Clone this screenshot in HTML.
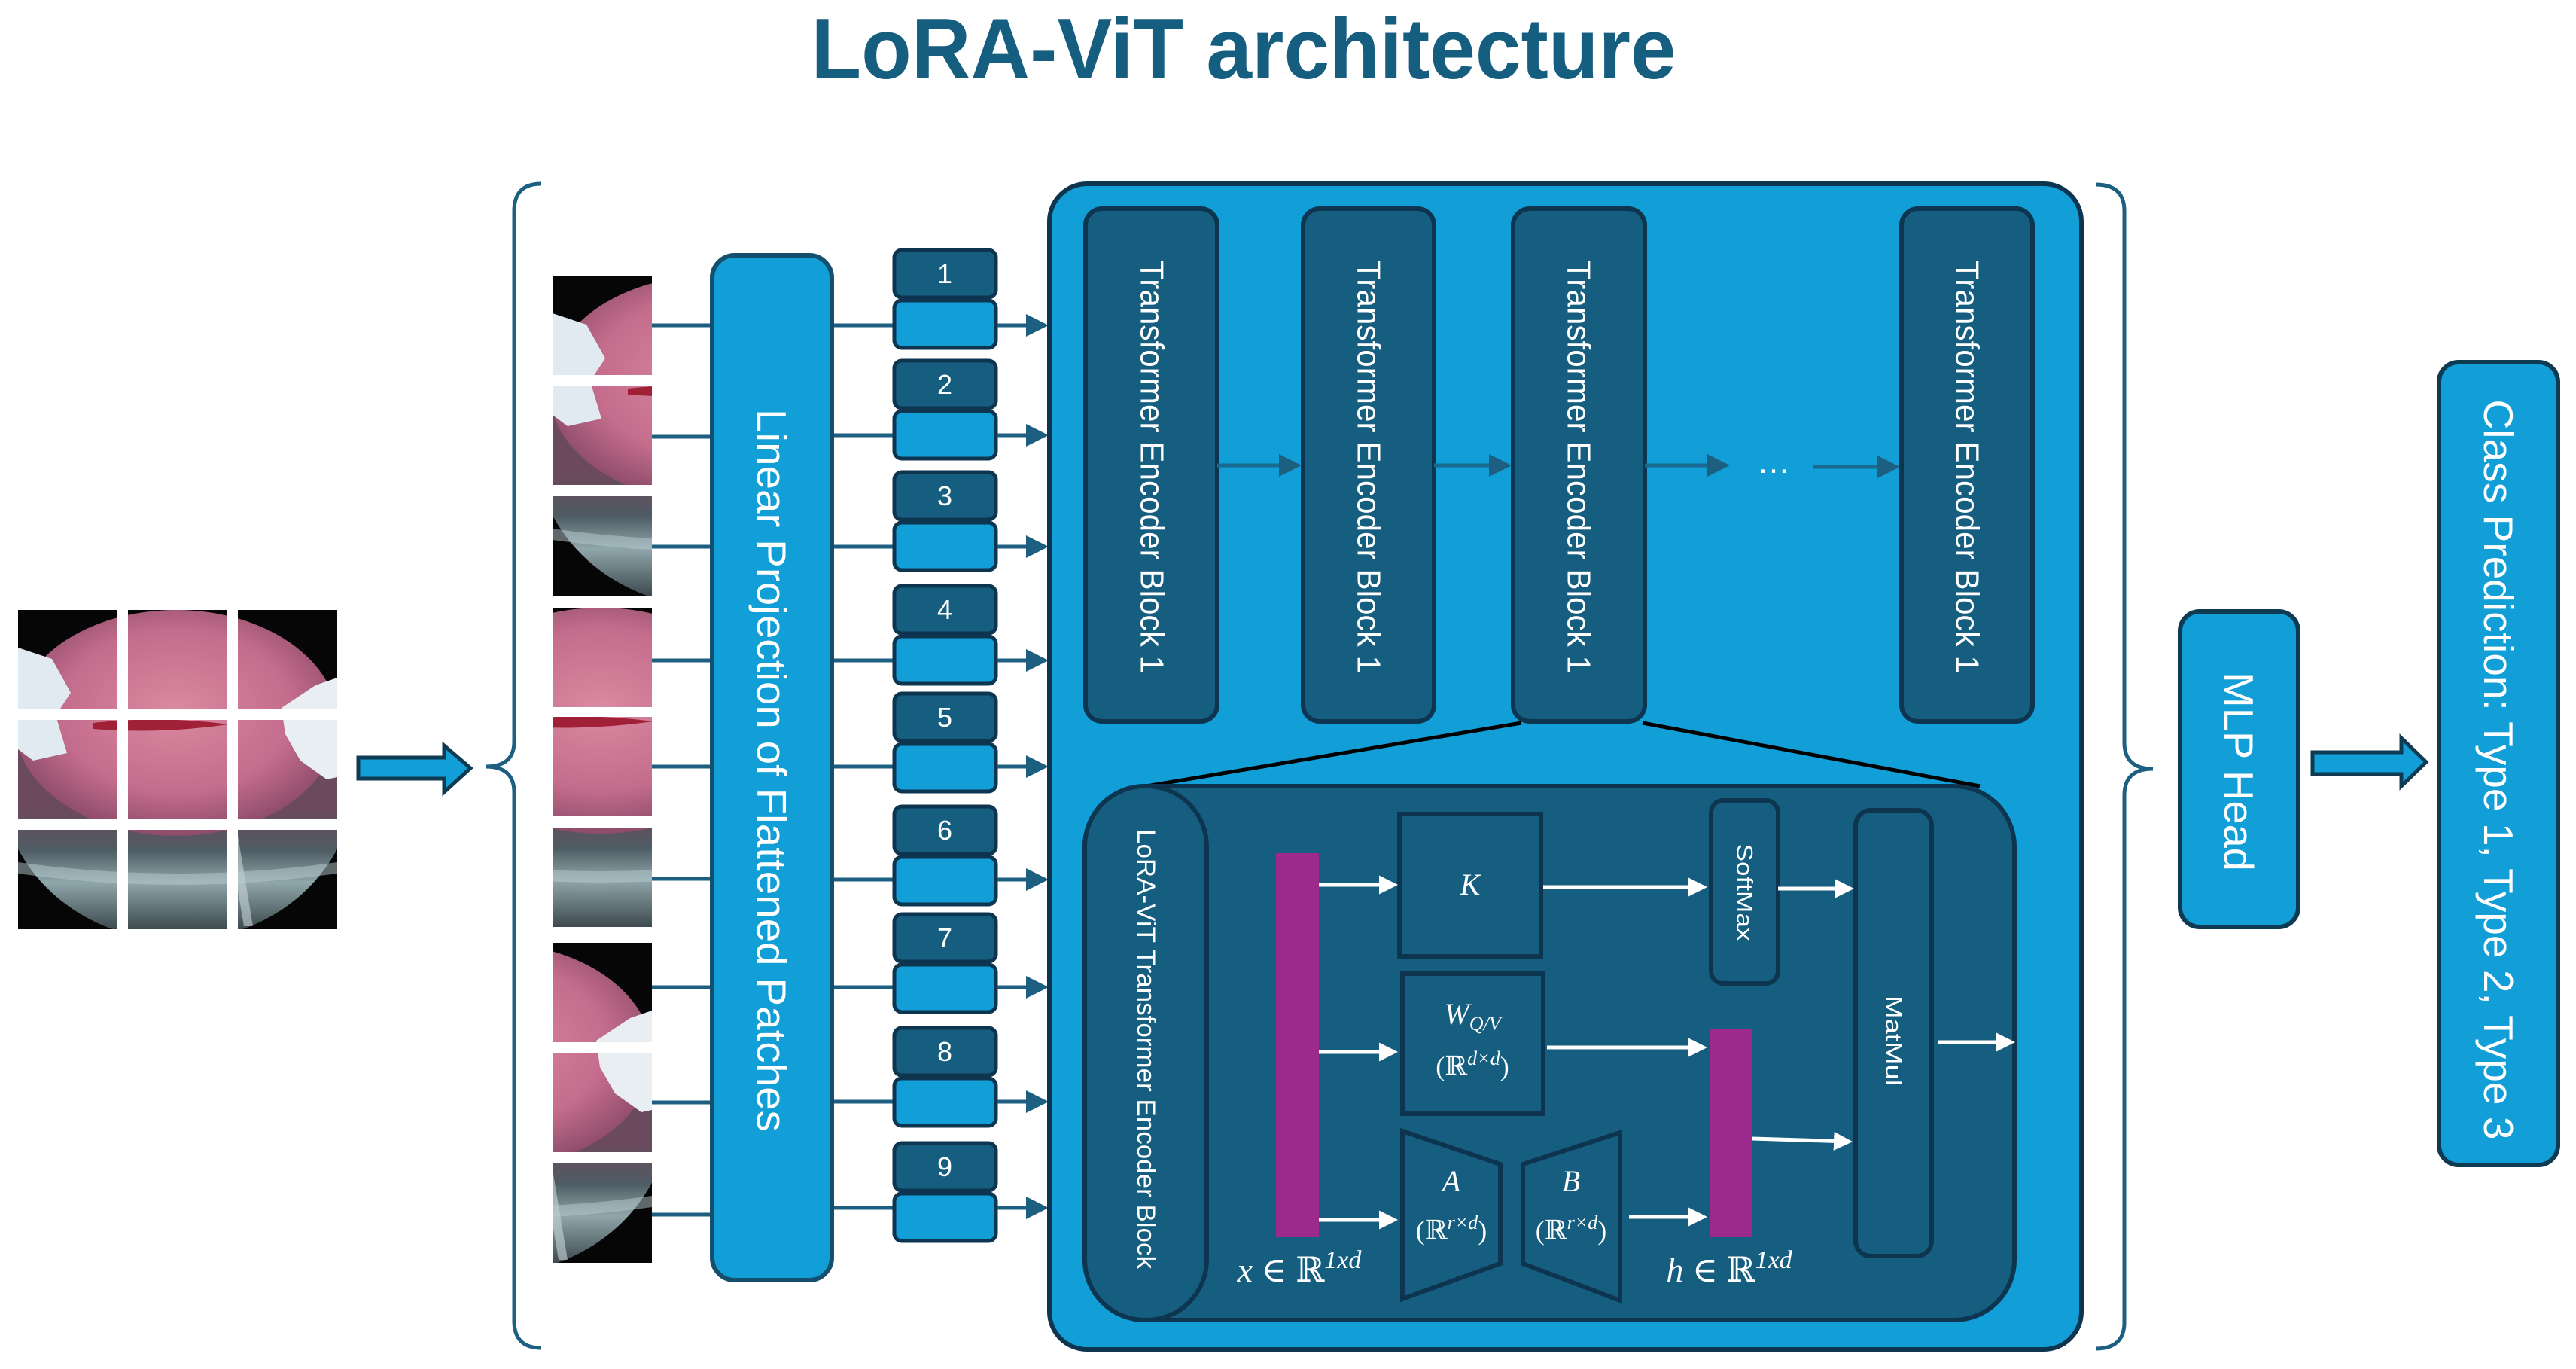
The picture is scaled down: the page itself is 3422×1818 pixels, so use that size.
<!DOCTYPE html>
<html><head><meta charset="utf-8"><style>html,body{margin:0;padding:0;background:#fff;}svg{display:block}</style></head>
<body>
<svg xmlns="http://www.w3.org/2000/svg" width="3422" height="1818" viewBox="0 0 3422 1818">
<defs>
  <radialGradient id="pink" cx="0.5" cy="0.45" r="0.6">
    <stop offset="0" stop-color="#d98aa0"/><stop offset="0.6" stop-color="#c46c8c"/><stop offset="1" stop-color="#7e4460"/>
  </radialGradient>
  <linearGradient id="gray" x1="0" y1="0" x2="0" y2="1">
    <stop offset="0" stop-color="#6a4a5c"/><stop offset="0.6" stop-color="#6a4a5c"/><stop offset="0.72" stop-color="#4e5c64"/><stop offset="0.82" stop-color="#8fa6aa"/><stop offset="1" stop-color="#2a3438"/>
  </linearGradient>
  <marker id="ab" markerWidth="6" markerHeight="6" refX="5" refY="3" orient="auto" markerUnits="strokeWidth"><path d="M0,0 L6,3 L0,6 z" fill="#1d5f80"/></marker>
  <marker id="aw" markerWidth="5" markerHeight="5" refX="4" refY="2.5" orient="auto" markerUnits="strokeWidth"><path d="M0,0 L5,2.5 L0,5 z" fill="#fff"/></marker>
  <g id="img">
    <rect x="0" y="0" width="424" height="424" fill="#060606"/>
    <ellipse cx="212" cy="225" rx="235" ry="214" fill="url(#gray)"/>
    <ellipse cx="210" cy="150" rx="215" ry="150" fill="url(#pink)"/>
    <path d="M100,150 Q190,140 280,152 Q190,165 100,158 z" fill="#a02038"/>
    <path d="M0,50 L45,65 L70,110 L50,140 L65,190 L20,200 L0,185 z" fill="#e0eaf0"/>
    <path d="M424,90 L395,100 L350,130 L355,165 L375,200 L410,225 L424,222 z" fill="#e8eef2"/>
    <path d="M280,300 L300,420 L312,420 L292,300 z" fill="#c8d6d8" opacity="0.6"/>
    <path d="M0,335 Q212,365 424,335 L424,350 Q212,380 0,350 z" fill="#b8cccf" opacity="0.5"/>
  </g>
</defs>

<text x="1652" y="104" text-anchor="middle" font-family="Liberation Sans, sans-serif" font-weight="bold" font-size="114" fill="#165e80" textLength="1149" lengthAdjust="spacingAndGlyphs">LoRA-ViT architecture</text>

<svg x="24" y="810" width="132" height="132" viewBox="0 0 132 132"><use href="#img"/></svg>
<svg x="170" y="810" width="132" height="132" viewBox="146 0 132 132"><use href="#img"/></svg>
<svg x="316" y="810" width="132" height="132" viewBox="292 0 132 132"><use href="#img"/></svg>
<svg x="24" y="956" width="132" height="132" viewBox="0 146 132 132"><use href="#img"/></svg>
<svg x="170" y="956" width="132" height="132" viewBox="146 146 132 132"><use href="#img"/></svg>
<svg x="316" y="956" width="132" height="132" viewBox="292 146 132 132"><use href="#img"/></svg>
<svg x="24" y="1102" width="132" height="132" viewBox="0 292 132 132"><use href="#img"/></svg>
<svg x="170" y="1102" width="132" height="132" viewBox="146 292 132 132"><use href="#img"/></svg>
<svg x="316" y="1102" width="132" height="132" viewBox="292 292 132 132"><use href="#img"/></svg>

<polygon points="476,1006 590,1006 590,990 625,1020 590,1052 590,1034 476,1034" fill="#129ed6" stroke="#0e3a52" stroke-width="5"/>

<path d="M719,244 Q683,244 683,280 L683,985 Q683,1018 645,1018 Q683,1018 683,1052 L683,1754 Q683,1790 719,1790" fill="none" stroke="#1d5f80" stroke-width="5"/>
<path d="M2784,245 Q2822,245 2822,280 L2822,986 Q2822,1021 2860,1021 Q2822,1021 2822,1056 L2822,1756 Q2822,1791 2784,1791" fill="none" stroke="#1d5f80" stroke-width="5"/>

<svg x="734" y="366" width="132" height="132" viewBox="0 0 132 132"><use href="#img"/></svg>
<svg x="734" y="512" width="132" height="132" viewBox="0 146 132 132"><use href="#img"/></svg>
<svg x="734" y="659" width="132" height="132" viewBox="0 292 132 132"><use href="#img"/></svg>
<svg x="734" y="807" width="132" height="132" viewBox="146 0 132 132"><use href="#img"/></svg>
<svg x="734" y="952" width="132" height="132" viewBox="146 146 132 132"><use href="#img"/></svg>
<svg x="734" y="1099" width="132" height="132" viewBox="146 292 132 132"><use href="#img"/></svg>
<svg x="734" y="1252" width="132" height="132" viewBox="292 0 132 132"><use href="#img"/></svg>
<svg x="734" y="1398" width="132" height="132" viewBox="292 146 132 132"><use href="#img"/></svg>
<svg x="734" y="1545" width="132" height="132" viewBox="292 292 132 132"><use href="#img"/></svg>

<g stroke="#1d5f80" stroke-width="5">
  <line x1="866" y1="432" x2="946" y2="432"/><line x1="866" y1="580" x2="946" y2="580"/><line x1="866" y1="726" x2="946" y2="726"/>
  <line x1="866" y1="877" x2="946" y2="877"/><line x1="866" y1="1018" x2="946" y2="1018"/><line x1="866" y1="1167" x2="946" y2="1167"/>
  <line x1="866" y1="1311" x2="946" y2="1311"/><line x1="866" y1="1464" x2="946" y2="1464"/><line x1="866" y1="1613" x2="946" y2="1613"/>
  <line x1="1105" y1="432" x2="1186" y2="432"/><line x1="1105" y1="578" x2="1186" y2="578"/><line x1="1105" y1="726" x2="1186" y2="726"/>
  <line x1="1105" y1="877" x2="1186" y2="877"/><line x1="1105" y1="1018" x2="1186" y2="1018"/><line x1="1105" y1="1168" x2="1186" y2="1168"/>
  <line x1="1105" y1="1311" x2="1186" y2="1311"/><line x1="1105" y1="1463" x2="1186" y2="1463"/><line x1="1105" y1="1604" x2="1186" y2="1604"/>
</g>

<rect x="946" y="339" width="159" height="1361" rx="30" fill="#129ed6" stroke="#14506e" stroke-width="6"/>
<text transform="translate(1025,1023) rotate(90)" text-anchor="middle" dominant-baseline="central" font-family="Liberation Sans, sans-serif" font-size="55" fill="#fff" textLength="960" lengthAdjust="spacingAndGlyphs">Linear Projection of Flattened Patches</text>

<g font-family="Liberation Sans, sans-serif" font-size="36" fill="#fff" text-anchor="middle">
<g transform="translate(0,332)"><rect x="1188" y="0" width="135" height="63" rx="10" fill="#165e80" stroke="#0e3550" stroke-width="5"/><rect x="1188" y="67" width="135" height="63" rx="10" fill="#129ed6" stroke="#0e3550" stroke-width="5"/><text x="1255" y="44">1</text></g>
<g transform="translate(0,479)"><rect x="1188" y="0" width="135" height="63" rx="10" fill="#165e80" stroke="#0e3550" stroke-width="5"/><rect x="1188" y="67" width="135" height="63" rx="10" fill="#129ed6" stroke="#0e3550" stroke-width="5"/><text x="1255" y="44">2</text></g>
<g transform="translate(0,627)"><rect x="1188" y="0" width="135" height="63" rx="10" fill="#165e80" stroke="#0e3550" stroke-width="5"/><rect x="1188" y="67" width="135" height="63" rx="10" fill="#129ed6" stroke="#0e3550" stroke-width="5"/><text x="1255" y="44">3</text></g>
<g transform="translate(0,778)"><rect x="1188" y="0" width="135" height="63" rx="10" fill="#165e80" stroke="#0e3550" stroke-width="5"/><rect x="1188" y="67" width="135" height="63" rx="10" fill="#129ed6" stroke="#0e3550" stroke-width="5"/><text x="1255" y="44">4</text></g>
<g transform="translate(0,921)"><rect x="1188" y="0" width="135" height="63" rx="10" fill="#165e80" stroke="#0e3550" stroke-width="5"/><rect x="1188" y="67" width="135" height="63" rx="10" fill="#129ed6" stroke="#0e3550" stroke-width="5"/><text x="1255" y="44">5</text></g>
<g transform="translate(0,1071)"><rect x="1188" y="0" width="135" height="63" rx="10" fill="#165e80" stroke="#0e3550" stroke-width="5"/><rect x="1188" y="67" width="135" height="63" rx="10" fill="#129ed6" stroke="#0e3550" stroke-width="5"/><text x="1255" y="44">6</text></g>
<g transform="translate(0,1214)"><rect x="1188" y="0" width="135" height="63" rx="10" fill="#165e80" stroke="#0e3550" stroke-width="5"/><rect x="1188" y="67" width="135" height="63" rx="10" fill="#129ed6" stroke="#0e3550" stroke-width="5"/><text x="1255" y="44">7</text></g>
<g transform="translate(0,1365)"><rect x="1188" y="0" width="135" height="63" rx="10" fill="#165e80" stroke="#0e3550" stroke-width="5"/><rect x="1188" y="67" width="135" height="63" rx="10" fill="#129ed6" stroke="#0e3550" stroke-width="5"/><text x="1255" y="44">8</text></g>
<g transform="translate(0,1518)"><rect x="1188" y="0" width="135" height="63" rx="10" fill="#165e80" stroke="#0e3550" stroke-width="5"/><rect x="1188" y="67" width="135" height="63" rx="10" fill="#129ed6" stroke="#0e3550" stroke-width="5"/><text x="1255" y="44">9</text></g>
</g>
<g stroke="#1d5f80" stroke-width="5" marker-end="url(#ab)">
  <line x1="1324" y1="432" x2="1388" y2="432"/><line x1="1324" y1="578" x2="1388" y2="578"/><line x1="1324" y1="726" x2="1388" y2="726"/>
  <line x1="1324" y1="877" x2="1388" y2="877"/><line x1="1324" y1="1018" x2="1388" y2="1018"/><line x1="1324" y1="1168" x2="1388" y2="1168"/>
  <line x1="1324" y1="1311" x2="1388" y2="1311"/><line x1="1324" y1="1463" x2="1388" y2="1463"/><line x1="1324" y1="1604" x2="1388" y2="1604"/>
</g>

<rect x="1394" y="244" width="1371" height="1548" rx="50" fill="#129ed6" stroke="#0e3550" stroke-width="6"/>

<g fill="#165e80" stroke="#0e3550" stroke-width="6">
  <rect x="1442" y="277" width="175" height="681" rx="22"/>
  <rect x="1731" y="277" width="174" height="681" rx="22"/>
  <rect x="2010" y="277" width="175" height="681" rx="22"/>
  <rect x="2526" y="277" width="174" height="681" rx="22"/>
</g>
<g font-family="Liberation Sans, sans-serif" font-size="44" fill="#fff" text-anchor="middle" dominant-baseline="central">
  <text transform="translate(1530,620) rotate(90)" textLength="548" lengthAdjust="spacingAndGlyphs">Transformer Encoder Block 1</text>
  <text transform="translate(1818,620) rotate(90)" textLength="548" lengthAdjust="spacingAndGlyphs">Transformer Encoder Block 1</text>
  <text transform="translate(2097,620) rotate(90)" textLength="548" lengthAdjust="spacingAndGlyphs">Transformer Encoder Block 1</text>
  <text transform="translate(2613,620) rotate(90)" textLength="548" lengthAdjust="spacingAndGlyphs">Transformer Encoder Block 1</text>
</g>
<g stroke="#1a6a90" stroke-width="5" marker-end="url(#ab)">
  <line x1="1617" y1="618" x2="1724" y2="618"/>
  <line x1="1905" y1="618" x2="2003" y2="618"/>
  <line x1="2185" y1="618" x2="2293" y2="618"/>
  <line x1="2409" y1="620" x2="2519" y2="620"/>
</g>
<text x="2356" y="628" text-anchor="middle" font-family="Liberation Sans, sans-serif" font-size="44" fill="#fff">…</text>

<line x1="2021" y1="960" x2="1523" y2="1044" stroke="#000" stroke-width="5"/>
<line x1="2182" y1="960" x2="2630" y2="1044" stroke="#000" stroke-width="5"/>

<rect x="1441" y="1044" width="1235" height="709" rx="80" fill="#165e80" stroke="#0e3550" stroke-width="6"/>
<rect x="1441" y="1044" width="162" height="709" rx="80" fill="#165e80" stroke="#0e3550" stroke-width="6"/>
<text transform="translate(1522,1393) rotate(90)" text-anchor="middle" dominant-baseline="central" font-family="Liberation Sans, sans-serif" font-size="34" fill="#fff" textLength="584" lengthAdjust="spacingAndGlyphs">LoRA-ViT Transformer Encoder Block</text>

<rect x="1695" y="1133" width="57" height="510" fill="#9c2a8c"/>
<rect x="2271" y="1366" width="57" height="277" fill="#9c2a8c"/>

<g fill="#165e80" stroke="#0e3550" stroke-width="6">
  <rect x="1859" y="1081" width="188" height="189"/>
  <rect x="1863" y="1293" width="187" height="186"/>
  <rect x="2273" y="1063" width="89" height="243" rx="16"/>
  <rect x="2465" y="1076" width="101" height="592" rx="20"/>
  <polygon points="1863,1502 1993,1546 1993,1678 1863,1725"/>
  <polygon points="2023,1546 2152,1504 2152,1727 2023,1678"/>
</g>

<g stroke="#fff" stroke-width="5" marker-end="url(#aw)">
  <line x1="1752" y1="1175" x2="1852" y2="1175"/>
  <line x1="1752" y1="1397" x2="1852" y2="1397"/>
  <line x1="1752" y1="1620" x2="1852" y2="1620"/>
  <line x1="2050" y1="1178" x2="2263" y2="1178"/>
  <line x1="2362" y1="1180" x2="2458" y2="1180"/>
  <line x1="2055" y1="1391" x2="2263" y2="1391"/>
  <line x1="2164" y1="1616" x2="2263" y2="1616"/>
  <line x1="2328" y1="1512" x2="2456" y2="1516"/>
  <line x1="2574" y1="1384" x2="2672" y2="1384"/>
</g>

<g font-family="Liberation Sans, sans-serif" font-size="30" fill="#fff" text-anchor="middle" dominant-baseline="central">
  <text transform="translate(2317,1185) rotate(90)" textLength="129" lengthAdjust="spacingAndGlyphs">SoftMax</text>
  <text transform="translate(2515,1382) rotate(90)" textLength="120" lengthAdjust="spacingAndGlyphs">MatMul</text>
</g>

<g font-family="Liberation Serif, DejaVu Serif, serif" fill="#fff" text-anchor="middle">
  <text x="1953" y="1188" font-size="40" font-style="italic">K</text>
  <text x="1956" y="1360" font-size="40"><tspan font-style="italic">W</tspan><tspan font-size="26" dy="8" font-style="italic">Q/V</tspan></text>
  <text x="1956" y="1428" font-size="36">(ℝ<tspan font-size="26" dy="-14" font-style="italic">d×d</tspan><tspan dy="14">)</tspan></text>
  <text x="1928" y="1582" font-size="40" font-style="italic">A</text>
  <text x="1928" y="1646" font-size="36">(ℝ<tspan font-size="26" dy="-14" font-style="italic">r×d</tspan><tspan dy="14">)</tspan></text>
  <text x="2087" y="1582" font-size="40" font-style="italic">B</text>
  <text x="2087" y="1646" font-size="36">(ℝ<tspan font-size="26" dy="-14" font-style="italic">r×d</tspan><tspan dy="14">)</tspan></text>
  <text x="1726" y="1702" font-size="46"><tspan font-style="italic">x</tspan> ∈ ℝ<tspan font-size="34" dy="-18" font-style="italic">1xd</tspan></text>
  <text x="2297" y="1702" font-size="46"><tspan font-style="italic">h</tspan> ∈ ℝ<tspan font-size="34" dy="-18" font-style="italic">1xd</tspan></text>
</g>

<rect x="2896" y="812" width="157" height="419" rx="26" fill="#129ed6" stroke="#0e3a52" stroke-width="6"/>
<text transform="translate(2974,1025) rotate(90)" text-anchor="middle" dominant-baseline="central" font-family="Liberation Sans, sans-serif" font-size="55" fill="#fff" textLength="264" lengthAdjust="spacingAndGlyphs">MLP Head</text>
<polygon points="3072,999 3190,999 3190,980 3223,1012 3190,1044 3190,1028 3072,1028" fill="#129ed6" stroke="#0e3a52" stroke-width="5"/>
<rect x="3240" y="481" width="158" height="1066" rx="26" fill="#129ed6" stroke="#0e3a52" stroke-width="6"/>
<text transform="translate(3319,1022) rotate(90)" text-anchor="middle" dominant-baseline="central" font-family="Liberation Sans, sans-serif" font-size="55" fill="#fff" textLength="983" lengthAdjust="spacingAndGlyphs">Class Prediction: Type 1, Type 2, Type 3</text>
</svg>
</body></html>
